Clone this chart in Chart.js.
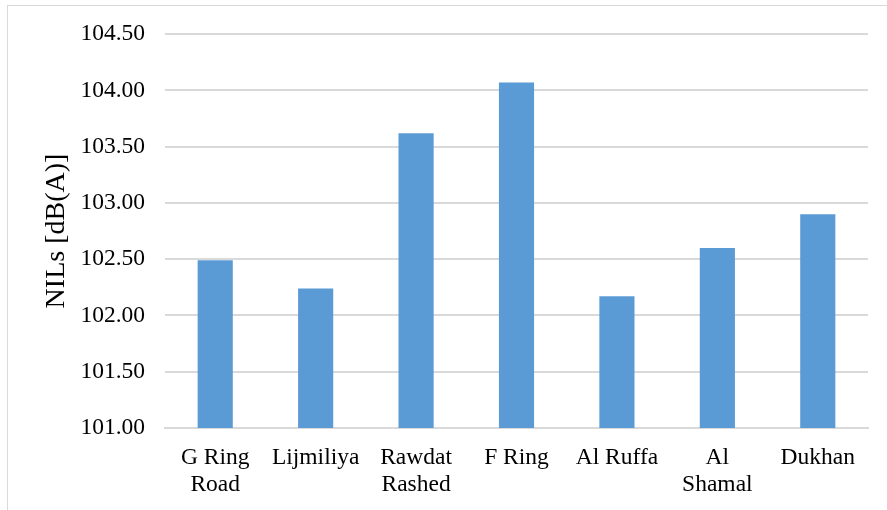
<!DOCTYPE html>
<html>
<head>
<meta charset="utf-8">
<script src="https://cdn.jsdelivr.net/npm/chart.js@4/dist/chart.umd.min.js"></script>
<style>
  html, body { margin: 0; padding: 0; background: #ffffff; overflow: hidden; }
  #frame { position: absolute; left: 7px; top: 5px; width: 920px; height: 560px; border: 1px solid #d9d9d9; }
  #wrap { position: absolute; left: 0; top: 0; width: 887px; height: 510px; }
</style>
</head>
<body>
<div id="frame"></div>
<div id="wrap"><canvas id="chart" width="887" height="510"></canvas></div>
<script>
// Noise indicator levels by site
const sites = [
  ['G Ring', 'Road'],
  'Lijmiliya',
  ['Rawdat', 'Rashed'],
  'F Ring',
  'Al Ruffa',
  ['Al', 'Shamal'],
  'Dukhan'
];
const nilValues = [102.49, 102.24, 103.62, 104.07, 102.17, 102.60, 102.90];
const yMin = 101.0;
const yMax = 104.5;
const yStep = 0.5;
const yTitle = 'NILs [dB(A)]';

const serif = "'Liberation Serif', 'Times New Roman', serif";

new Chart(document.getElementById('chart'), {
  type: 'bar',
  data: {
    labels: sites,
    datasets: [{
      data: nilValues,
      backgroundColor: '#5b9bd5',
      borderWidth: 0,
      barPercentage: 0.7,
      categoryPercentage: 0.5
    }]
  },
  options: {
    responsive: false,
    animation: false,
    layout: { padding: { left: 40, right: 19, top: 34, bottom: 0 } },
    plugins: { legend: { display: false }, tooltip: { enabled: false } },
    scales: {
      x: {
        grid: { display: false },
        border: { display: true, color: '#d9d9d9', width: 2 },
        ticks: {
          color: '#000000',
          font: { family: serif, size: 23.5, lineHeight: 1.15 },
          maxRotation: 0,
          autoSkip: false,
          padding: 8
        },
        afterFit: (scale) => { scale.height = 82; }
      },
      y: {
        min: yMin,
        max: yMax,
        grid: { color: '#d9d9d9', lineWidth: 2, drawTicks: false },
        border: { display: false },
        ticks: {
          stepSize: yStep,
          color: '#000000',
          font: { family: serif, size: 23.5 },
          padding: 20,
          callback: (v) => v.toFixed(2)
        },
        title: {
          display: true,
          text: yTitle,
          color: '#000000',
          font: { family: serif, size: 28, lineHeight: 1.2 },
          padding: { top: 0, bottom: 0 }
        },
        afterFit: (scale) => { scale.width = 125; }
      }
    }
  }
});
</script>
</body>
</html>
